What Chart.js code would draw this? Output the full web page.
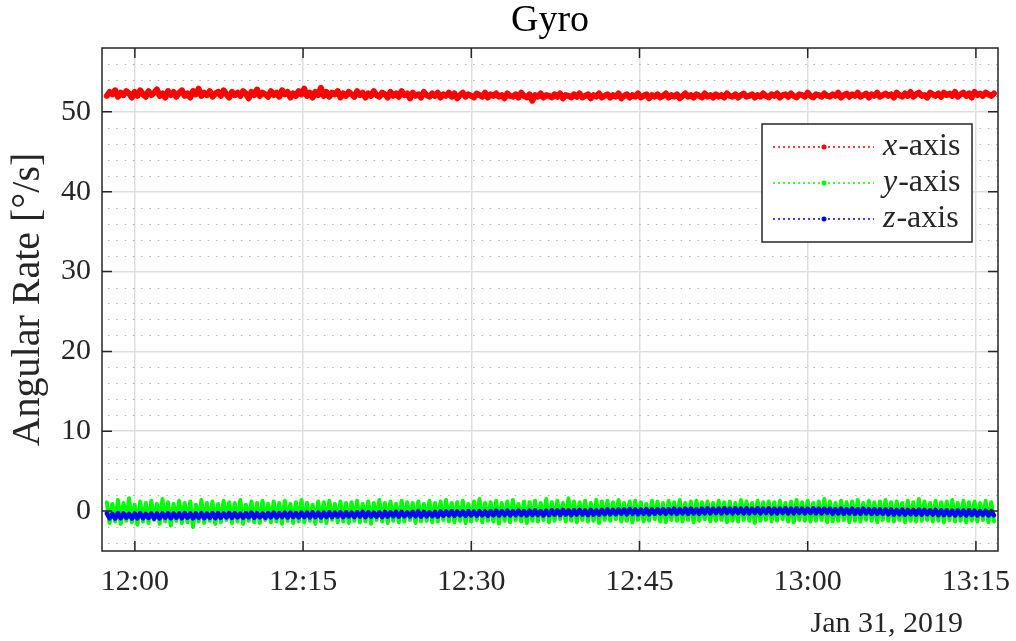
<!DOCTYPE html>
<html>
<head>
<meta charset="utf-8">
<script src="https://cdn.jsdelivr.net/npm/chart.js@4.4.1/dist/chart.umd.min.js"></script>
<style>
  html, body { margin: 0; padding: 0; background: #fff; }
  #wrap { width: 1016px; height: 641px; }
</style>
</head>
<body>
<div id="wrap"><canvas id="gyroChart" width="1016" height="641"></canvas></div>
<script>
// sample times: minutes after 12:00, evenly spaced
const startMin = -2.5;
const stepMin = 0.248;

const xAxisData = [
    52.0,52.5,52.2,52.7,51.9,52.4,52.1,52.6,52.3,51.8,52.5,52.0,52.7,52.2,51.9,52.6,52.1,52.4,52.8,52.0,
    52.3,51.8,52.6,52.1,52.5,51.9,52.4,52.7,52.0,52.3,51.8,52.6,52.2,52.9,52.0,52.4,52.1,52.6,51.9,52.3,
    52.5,52.0,52.7,52.2,51.8,52.5,52.1,52.4,52.0,52.6,52.3,51.7,52.5,52.1,52.8,52.0,52.4,52.2,51.9,52.6,
    52.1,52.4,51.9,52.7,52.2,52.5,51.8,52.3,52.0,52.6,52.2,52.9,52.0,52.4,51.8,52.5,52.1,53.0,52.0,52.5,
    51.9,52.4,52.2,52.6,51.8,52.3,52.0,52.5,52.2,51.9,52.6,52.1,52.4,51.8,52.3,52.0,52.6,52.1,51.9,52.4,
    52.2,51.8,52.5,52.0,52.3,51.9,52.6,52.1,52.3,51.7,52.4,52.0,52.2,51.8,52.5,52.1,51.9,52.3,52.0,52.4,
    51.8,52.2,52.0,52.4,51.9,52.3,51.7,52.1,52.4,51.9,52.2,52.0,51.8,52.3,52.1,51.9,52.4,51.8,52.2,52.0,
    52.3,51.9,52.1,51.7,52.3,52.0,51.9,52.2,51.8,52.4,52.0,51.8,52.2,51.4,52.1,51.9,52.3,51.8,52.1,52.0,
    51.8,52.2,51.9,52.3,51.7,52.1,52.0,51.8,52.2,51.9,52.3,51.8,52.0,52.2,51.7,52.1,51.9,52.3,51.8,52.0,
    52.2,51.8,52.1,51.9,52.3,51.7,52.0,52.2,51.8,52.1,51.9,52.3,51.8,52.0,52.2,51.7,52.1,51.9,52.2,51.8,
    52.0,52.3,51.8,52.1,51.9,52.2,51.7,52.0,52.3,51.9,52.1,51.8,52.2,52.0,51.8,52.3,51.9,52.1,51.8,52.2,
    51.9,52.1,51.8,52.3,52.0,51.9,52.2,51.8,52.1,52.3,51.9,52.0,52.2,51.8,52.1,51.9,52.3,52.0,51.8,52.2,
    52.0,52.3,51.8,52.1,52.2,51.9,52.3,52.0,51.8,52.2,52.1,51.9,52.4,52.0,51.8,52.2,52.1,51.9,52.3,52.0,
    51.9,52.2,52.0,52.4,51.8,52.1,52.3,51.9,52.2,52.0,52.4,51.9,52.1,52.3,51.8,52.2,52.0,52.4,51.9,52.1,
    52.3,52.0,52.2,51.8,52.4,52.1,51.9,52.3,52.0,52.5,51.9,52.2,52.4,52.0,52.1,51.8,52.4,52.2,52.0,52.3,
    51.9,52.4,52.1,52.3,52.0,52.5,51.9,52.2,52.4,52.0,52.3,51.8,52.5,52.1,52.3,52.0,52.4,52.2,52.0,52.3
];
const yAxisData = [
    1.1,-1.5,0.9,-1.3,1.4,-1.6,1.0,-1.2,1.6,-1.4,0.8,-1.7,1.2,-1.3,1.0,-1.5,1.3,-1.1,0.9,-1.6,
    1.5,-1.3,1.1,-1.8,0.9,-1.2,1.3,-1.5,1.0,-1.4,1.2,-2.0,0.8,-1.3,1.4,-1.5,1.0,-1.2,1.2,-1.6,
    0.9,-1.4,1.3,-1.1,1.1,-1.5,1.0,-1.3,1.4,-1.6,0.8,-1.2,1.2,-1.4,1.0,-1.5,1.3,-1.1,0.9,-1.4,
    1.2,-1.3,1.0,-1.6,1.3,-1.2,0.9,-1.5,1.1,-1.3,1.4,-1.4,1.0,-1.2,0.8,-1.6,1.2,-1.3,1.1,-1.5,
    1.3,-1.1,0.9,-1.4,1.2,-1.3,1.0,-1.5,1.1,-1.2,1.3,-1.4,0.9,-1.3,1.2,-1.6,1.0,-1.1,1.4,-1.3,
    1.0,-1.5,1.2,-1.2,0.9,-1.4,1.3,-1.3,1.1,-1.1,1.0,-1.5,1.2,-1.3,0.9,-1.2,1.3,-1.4,1.0,-1.3,
    1.2,-1.1,1.4,-1.3,1.0,-1.4,1.1,-1.2,1.3,-1.5,0.9,-1.3,1.2,-1.1,1.5,-1.4,1.0,-1.2,1.1,-1.3,
    1.3,-1.6,1.0,-1.2,1.2,-1.4,1.4,-1.1,0.9,-1.3,1.2,-1.5,1.1,-1.2,1.3,-1.3,1.0,-1.1,1.5,-1.4,
    1.1,-1.2,1.3,-1.0,1.0,-1.3,1.6,-1.2,1.2,-1.4,1.1,-1.1,1.3,-1.3,1.0,-1.2,1.4,-1.5,1.2,-1.1,
    1.3,-1.2,1.1,-1.0,1.4,-1.3,1.0,-1.2,1.2,-1.4,1.3,-1.1,1.1,-1.3,0.9,-1.2,1.3,-1.0,1.2,-1.3,
    1.0,-1.4,1.3,-1.1,1.1,-1.2,1.4,-1.3,1.0,-1.1,1.2,-1.4,1.3,-1.2,1.1,-1.0,1.2,-1.3,1.0,-1.2,
    1.3,-1.1,1.1,-1.4,1.2,-1.2,1.0,-1.3,1.4,-1.1,1.2,-1.2,1.0,-1.5,1.3,-1.2,1.1,-1.1,1.2,-1.3,
    1.1,-1.2,1.3,-1.0,1.0,-1.3,1.2,-1.4,1.4,-1.1,1.1,-1.2,1.3,-1.3,1.0,-1.2,1.2,-1.1,1.5,-1.4,
    1.2,-1.3,1.0,-1.2,1.3,-1.1,1.1,-1.4,1.2,-1.2,1.4,-1.3,1.0,-1.1,1.3,-1.2,1.1,-1.4,1.2,-1.1,
    1.4,-1.2,1.1,-1.3,1.2,-1.1,1.0,-1.4,1.3,-1.2,1.1,-1.3,1.5,-1.2,1.2,-1.1,1.0,-1.3,1.3,-1.2,
    1.1,-1.4,1.2,-1.1,1.4,-1.3,1.0,-1.2,1.3,-1.4,1.1,-1.2,1.2,-1.3,1.0,-1.1,1.3,-1.4,1.1,-1.3
];
const zAxisData = [
    -0.3,-0.9,-0.35,-0.95,-0.25,-0.9,-0.3,-0.85,-0.35,-0.95,-0.3,-0.9,-0.25,-0.9,-0.35,-0.85,-0.3,-0.95,-0.3,-0.9,
    -0.3,-0.85,-0.25,-0.9,-0.3,-0.85,-0.3,-0.9,-0.25,-0.85,-0.3,-0.9,-0.3,-0.85,-0.25,-0.9,-0.3,-0.85,-0.25,-0.9,
    -0.25,-0.85,-0.3,-0.8,-0.25,-0.85,-0.25,-0.8,-0.3,-0.85,-0.25,-0.8,-0.2,-0.85,-0.25,-0.8,-0.3,-0.85,-0.25,-0.8,
    -0.2,-0.8,-0.25,-0.75,-0.2,-0.8,-0.2,-0.75,-0.25,-0.8,-0.2,-0.75,-0.2,-0.8,-0.15,-0.75,-0.2,-0.8,-0.2,-0.75,
    -0.15,-0.75,-0.2,-0.7,-0.15,-0.75,-0.15,-0.7,-0.2,-0.75,-0.15,-0.7,-0.1,-0.75,-0.15,-0.7,-0.2,-0.7,-0.15,-0.75,
    -0.1,-0.7,-0.15,-0.65,-0.1,-0.7,-0.1,-0.65,-0.15,-0.7,-0.1,-0.65,-0.05,-0.7,-0.1,-0.65,-0.15,-0.65,-0.1,-0.7,
    -0.05,-0.6,-0.05,-0.55,0.0,-0.6,-0.05,-0.55,-0.05,-0.6,0.0,-0.55,-0.05,-0.6,0.0,-0.55,-0.05,-0.6,0.0,-0.55,
    0.05,-0.55,0.0,-0.5,0.05,-0.55,0.0,-0.5,0.05,-0.5,0.0,-0.55,0.05,-0.5,0.1,-0.5,0.0,-0.55,0.05,-0.5,
    0.1,-0.45,0.1,-0.5,0.15,-0.45,0.1,-0.5,0.1,-0.45,0.15,-0.45,0.1,-0.5,0.15,-0.45,0.1,-0.45,0.15,-0.4,
    0.2,-0.4,0.15,-0.4,0.2,-0.35,0.2,-0.4,0.25,-0.35,0.2,-0.4,0.2,-0.35,0.25,-0.4,0.2,-0.35,0.25,-0.3,
    0.25,-0.35,0.25,-0.3,0.3,-0.35,0.25,-0.3,0.3,-0.35,0.3,-0.3,0.25,-0.35,0.3,-0.3,0.35,-0.3,0.3,-0.25,
    0.3,-0.3,0.35,-0.25,0.3,-0.3,0.35,-0.25,0.3,-0.3,0.35,-0.3,0.3,-0.25,0.35,-0.3,0.3,-0.25,0.35,-0.3,
    0.3,-0.3,0.3,-0.25,0.35,-0.3,0.3,-0.3,0.35,-0.25,0.3,-0.3,0.3,-0.25,0.35,-0.3,0.3,-0.3,0.3,-0.25,
    0.3,-0.35,0.25,-0.3,0.3,-0.35,0.25,-0.3,0.3,-0.35,0.25,-0.35,0.3,-0.3,0.25,-0.35,0.25,-0.35,0.2,-0.35,
    0.2,-0.4,0.2,-0.45,0.15,-0.4,0.2,-0.45,0.15,-0.4,0.15,-0.45,0.2,-0.45,0.15,-0.4,0.1,-0.45,0.15,-0.5,
    0.1,-0.5,0.1,-0.5,0.05,-0.55,0.1,-0.5,0.05,-0.55,0.1,-0.5,0.05,-0.55,0.0,-0.5,0.05,-0.55,0.0,-0.55
];

const seriesLabels = ['x-axis', 'y-axis', 'z-axis'];
const seriesColors = ['#ff0000', '#00ff00', '#0000ff'];
const seriesWidths = [6, 4, 4.5];
const dateLabel = 'Jan 31, 2019';

const FONT = '"Liberation Serif", "Times New Roman", serif';
const AXIS_COLOR = '#262626';

function toPoints(values) {
    return values.map((v, i) => ({ x: startMin + i * stepMin, y: v }));
}

function fmtTime(v) {
    const h = 12 + Math.floor(v / 60);
    const m = Math.round(v - Math.floor(v / 60) * 60);
    return h + ':' + String(m).padStart(2, '0');
}

// MATLAB-like decorations: minor grid, box, inner ticks, legend, date
const matlabAxes = {
    id: 'matlabAxes',
    beforeDatasetsDraw(chart) {
        const { ctx, chartArea: a, scales: { y } } = chart;
        ctx.save();
        ctx.strokeStyle = '#b2b2b2';
        ctx.lineWidth = 1;
        ctx.setLineDash([1.5, 6.8]);
        for (let v = -4; v < 58; v += 2) {
            if (v % 10 === 0) continue;
            const py = Math.round(y.getPixelForValue(v)) + 0.5;
            ctx.beginPath();
            ctx.moveTo(a.left + 6, py);
            ctx.lineTo(a.right, py);
            ctx.stroke();
        }
        ctx.restore();
    },
    afterDatasetsDraw(chart) {
        const { ctx, chartArea: a, scales: { x, y } } = chart;
        ctx.save();
        ctx.strokeStyle = AXIS_COLOR;
        ctx.lineWidth = 1.5;
        ctx.setLineDash([]);
        ctx.strokeRect(a.left, a.top, a.right - a.left, a.bottom - a.top);

        const tl = 10;
        ctx.beginPath();
        x.ticks.forEach(t => {
            const px = x.getPixelForValue(t.value);
            ctx.moveTo(px, a.bottom); ctx.lineTo(px, a.bottom - tl);
            ctx.moveTo(px, a.top); ctx.lineTo(px, a.top + tl);
        });
        y.ticks.forEach(t => {
            const py = y.getPixelForValue(t.value);
            ctx.moveTo(a.left, py); ctx.lineTo(a.left + tl, py);
            ctx.moveTo(a.right, py); ctx.lineTo(a.right - tl, py);
        });
        ctx.stroke();

        // legend
        const bw = 210, bh = 118;
        const bx = a.right - 26 - bw, by = a.top + 76;
        ctx.fillStyle = '#ffffff';
        ctx.fillRect(bx, by, bw, bh);
        ctx.strokeStyle = '#262626';
        ctx.lineWidth = 1.5;
        ctx.strokeRect(bx, by, bw, bh);
        chart.data.datasets.forEach((ds, i) => {
            const ry = by + 23 + i * 36;
            ctx.strokeStyle = ds.borderColor;
            ctx.lineWidth = 1.5;
            ctx.setLineDash([2, 3]);
            ctx.beginPath();
            ctx.moveTo(bx + 11, ry);
            ctx.lineTo(bx + 112, ry);
            ctx.stroke();
            ctx.setLineDash([]);
            ctx.fillStyle = ds.borderColor;
            ctx.beginPath();
            ctx.arc(bx + 62, ry, 2.5, 0, Math.PI * 2);
            ctx.fill();

            ctx.fillStyle = AXIS_COLOR;
            ctx.textBaseline = 'middle';
            ctx.textAlign = 'left';
            const first = ds.label.charAt(0);
            const rest = ds.label.slice(1);
            ctx.font = 'italic 32px ' + FONT;
            ctx.fillText(first, bx + 121, ry);
            const w = ctx.measureText(first).width;
            ctx.font = '32px ' + FONT;
            ctx.fillText(rest, bx + 121 + w + 1, ry);
        });

        // date under the time axis
        ctx.fillStyle = AXIS_COLOR;
        ctx.font = '30px ' + FONT;
        ctx.textAlign = 'right';
        ctx.textBaseline = 'alphabetic';
        ctx.fillText(dateLabel, a.right - 35, 632);
        ctx.restore();
    }
};

const ctx = document.getElementById('gyroChart').getContext('2d');

const chart = new Chart(ctx, {
    type: 'line',
    data: {
        datasets: [xAxisData, yAxisData, zAxisData].map((vals, i) => ({
            label: seriesLabels[i],
            data: toPoints(vals),
            borderColor: seriesColors[i],
            backgroundColor: seriesColors[i],
            borderWidth: seriesWidths[i],
            borderJoinStyle: 'round',
            borderCapStyle: 'round',
            pointRadius: 0,
            tension: 0,
            fill: false,
            order: 3 - i
        }))
    },
    options: {
        responsive: false,
        animation: false,
        layout: { padding: { left: 0, right: 18, top: 0, bottom: 0 } },
        scales: {
            x: {
                type: 'linear',
                min: -2.93,
                max: 76.97,
                afterFit: s => { s.height = 90; s.paddingLeft = 0; s.paddingRight = 0; },
                border: { display: false },
                grid: { color: '#dedede', lineWidth: 1.5, drawTicks: false },
                ticks: {
                    stepSize: 15,
                    includeBounds: false,
                    maxRotation: 0,
                    padding: 13,
                    color: AXIS_COLOR,
                    font: { family: FONT, size: 30 },
                    callback: v => fmtTime(v)
                }
            },
            y: {
                min: -5,
                max: 58,
                afterFit: s => { s.width = 102; s.paddingTop = 0; s.paddingBottom = 0; },
                border: { display: false },
                grid: { color: '#dedede', lineWidth: 1.5, drawTicks: false },
                title: {
                    display: true,
                    text: 'Angular Rate [°/s]',
                    color: AXIS_COLOR,
                    font: { family: FONT, size: 40 },
                    padding: { top: 4, bottom: 0 }
                },
                ticks: {
                    stepSize: 10,
                    includeBounds: false,
                    padding: 11,
                    color: AXIS_COLOR,
                    font: { family: FONT, size: 30 }
                }
            }
        },
        plugins: {
            legend: { display: false },
            tooltip: { enabled: false },
            title: {
                display: true,
                fullSize: false,
                text: 'Gyro',
                color: '#000000',
                font: { family: FONT, size: 38, weight: 'normal', lineHeight: 1 },
                padding: { top: 2, bottom: 8 }
            }
        }
    },
    plugins: [matlabAxes]
});
</script>
</body>
</html>
